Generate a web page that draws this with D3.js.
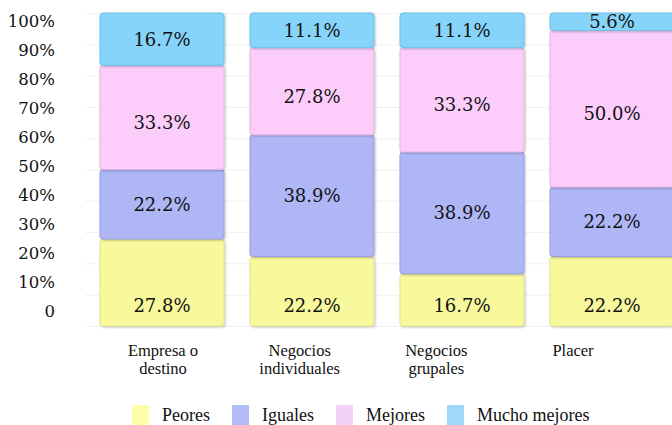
<!DOCTYPE html>
<html><head><meta charset="utf-8">
<script src="https://cdn.jsdelivr.net/npm/d3@7"></script>
<style>
html,body{margin:0;padding:0;background:#fff;}
svg{display:block;}
</style></head>
<body>
<svg id="chart" width="672" height="425"></svg>
<script>
const categories = [["Empresa o","destino"],["Negocios","individuales"],["Negocios","grupales"],["Placer"]];
const seriesNames = ["Peores","Iguales","Mejores","Mucho mejores"];
const peores = [27.8, 22.2, 16.7, 22.2];
const iguales = [22.2, 38.9, 38.9, 22.2];
const mejores = [33.3, 27.8, 33.3, 50.0];
const muchoMejores = [16.7, 11.1, 11.1, 5.6];
const yTicks = [0,10,20,30,40,50,60,70,80,90,100];
const yTickLabels = ["0","10%","20%","30%","40%","50%","60%","70%","80%","90%","100%"];

const barColors = ["#f8f89c","#aeb6f6","#fccdfa","#86d4f9"];
const barStrokes = ["#e4e48a","#969fe0","#e6b4e4","#6fbfe6"];
const legendColors = ["#fdfdab","#b4bcf8","#f2d0f8","#a0d8f8"];

const svg = d3.select("#chart");
const keys = categories.map(c => c.join(" "));
const values = [peores, iguales, mejores, muchoMejores];
const rows = keys.map((k,i) => {
  const o = {key:k};
  seriesNames.forEach((s,j) => o[s] = values[j][i]);
  return o;
});
const stack = d3.stack().keys(seriesNames)(rows);

const x = d3.scaleBand().domain(keys).range([87, 687]).paddingInner(26/150).paddingOuter(13/150);
const y = d3.scaleLinear().domain([0,100]).range([326, 13]);
const yLab = d3.scaleLinear().domain([0,100]).range([311, 21]);
const xLab = d3.scalePoint().domain(keys).range([163, 573]);

// faint grid
svg.append("g").selectAll("line").data(yTicks).join("line")
  .attr("x1", 85).attr("x2", 672)
  .attr("y1", d => y(d)+0.5).attr("y2", d => y(d)+0.5)
  .attr("stroke", "#f1f1f1").attr("stroke-width", 1);

// y axis labels
const yAxis = d3.axisLeft(yLab).tickValues(yTicks).tickFormat((d,i) => yTickLabels[i]).tickSize(0).tickPadding(0);
const ya = svg.append("g").attr("transform","translate(55,0)").call(yAxis);
ya.select(".domain").remove();
ya.selectAll("text").attr("font-family","'DejaVu Serif', serif").attr("font-size","16.5px").attr("fill","#111");

// shadow filter
const defs = svg.append("defs");
const f = defs.append("filter").attr("id","sh").attr("x","-10%").attr("y","-10%").attr("width","130%").attr("height","130%");
f.append("feGaussianBlur").attr("in","SourceAlpha").attr("stdDeviation",1.2);
f.append("feOffset").attr("dx",1).attr("dy",1).attr("result","b");
f.append("feComponentTransfer").append("feFuncA").attr("type","linear").attr("slope",0.25);
const m = f.append("feMerge"); m.append("feMergeNode"); m.append("feMergeNode").attr("in","SourceGraphic");

// bars
const groups = svg.append("g").selectAll("g").data(stack).join("g");
groups.selectAll("rect").data((d,si) => d.map(p => ({p, si}))).join("rect")
  .attr("x", d => x(d.p.data.key))
  .attr("y", d => y(d.p[1]))
  .attr("width", x.bandwidth())
  .attr("height", d => y(d.p[0]) - y(d.p[1]))
  .attr("rx", 3)
  .attr("fill", d => barColors[d.si])
  .attr("stroke", d => barStrokes[d.si])
  .attr("stroke-width", 1)
  .attr("filter","url(#sh)");

// labels
groups.selectAll("text").data((d,si) => d.map(p => ({p, si}))).join("text")
  .attr("x", d => x(d.p.data.key) + x.bandwidth()/2)
  .attr("y", d => d.si === 0 ? y(0) - 20 : (y(d.p[0]) + y(d.p[1]))/2 + (d.si === 2 ? 5 : 0))
  .attr("dy","0.36em")
  .attr("text-anchor","middle")
  .attr("font-family","'DejaVu Serif', serif")
  .attr("font-size","18px")
  .attr("fill","#111")
  .text(d => (d.p[1]-d.p[0]).toFixed(1) + "%");

// category labels (one text element per line)
const catLines = [];
categories.forEach((c,i) => c.forEach((line,j) => catLines.push({key: keys[i], line, j})));
svg.append("g").selectAll("text").data(catLines).join("text")
  .attr("x", d => xLab(d.key))
  .attr("y", d => 356 + d.j * 18)
  .attr("text-anchor","middle")
  .attr("font-family","'Liberation Serif', serif")
  .attr("font-size","16.5px")
  .attr("fill","#111")
  .text(d => d.line);

// legend
const lg = svg.append("g");
let lx = 132;
seriesNames.forEach((s,i) => {
  lg.append("rect").attr("x", lx).attr("y", 405).attr("width", 17).attr("height", 20).attr("fill", legendColors[i]);
  const t = lg.append("text").attr("x", lx + 30).attr("y", 421)
    .attr("font-family","'Liberation Serif', serif")
    .attr("font-size","18px").attr("fill","#111").text(s);
  lx += 30 + t.node().getComputedTextLength() + 22;
});
</script>
</body></html>
